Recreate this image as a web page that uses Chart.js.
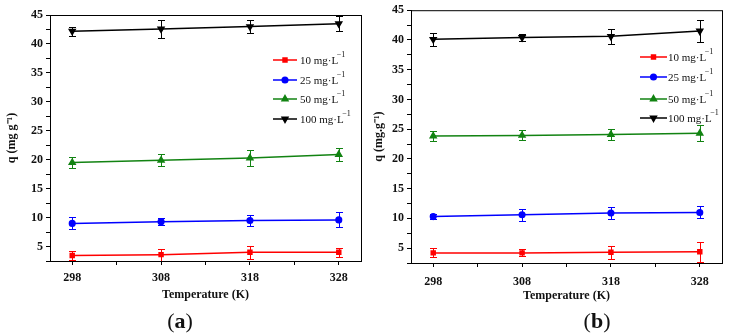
<!DOCTYPE html>
<html>
<head>
<meta charset="utf-8">
<script src="https://cdn.jsdelivr.net/npm/chart.js@4.4.1/dist/chart.umd.min.js"></script>
<style>
    body { margin: 0; background: #fff; width: 734px; height: 335px; overflow: hidden; position: relative; }
    .panel { position: absolute; top: 0; }
    .tag { position: absolute; top: 308px; font: 22px 'Liberation Serif', serif; color: #111; transform: translateX(-50%); }
</style>
</head>
<body>
<div class="panel" style="left:0px"><canvas id="chartA" width="367" height="310"></canvas></div>
<div class="panel" style="left:370px"><canvas id="chartB" width="364" height="310"></canvas></div>
<div class="tag" style="left:180px">(<b>a</b>)</div>
<div class="tag" style="left:597px">(<b>b</b>)</div>

<script>
// Data
const temps = [298, 308, 318, 328];
const xTicks = [298, 303, 308, 313, 318, 323, 328];
const yTickLabels = [5, 10, 15, 20, 25, 30, 35, 40, 45];
const seriesNames = ['10 mg\u00b7L', '25 mg\u00b7L', '50 mg\u00b7L', '100 mg\u00b7L'];

// panel (a)
const a10 = [3.45, 3.6, 4.0, 4.0];
const a10Err = [0.75, 1.05, 1.1, 0.8];
const a25 = [9.0, 9.3, 9.5, 9.6];
const a25Err = [1.05, 0.6, 0.9, 1.3];
const a50 = [19.5, 19.9, 20.3, 20.9];
const a50Err = [1.0, 1.0, 1.4, 1.2];
const a100 = [42.2, 42.6, 43.0, 43.5];
const a100Err = [0.8, 1.5, 1.1, 1.3];

// panel (b)
const b10 = [4.2, 4.2, 4.3, 4.4];
const b10Err = [0.75, 0.6, 1.1, 1.7];
const b25 = [10.3, 10.6, 10.9, 11.0];
const b25Err = [0.45, 1.0, 1.0, 1.0];
const b50 = [23.85, 23.95, 24.1, 24.3];
const b50Err = [0.8, 0.85, 1.0, 1.35];
const b100 = [40.1, 40.4, 40.6, 41.5];
const b100Err = [1.05, 0.6, 1.2, 1.85];

Chart.defaults.font.family = "'Liberation Serif', 'Times New Roman', serif";
Chart.defaults.color = '#111';

const colors = ['#ff0000', '#0000ff', '#128312', '#000000'];
const styles = ['rect', 'circle', 'triangle', 'triangle'];
const rotations = [0, 0, 0, 180];
const radii = [2.8, 2.8, 3.4, 3.4];

// error bars, drawn through the y scale
const errorBars = {
    id: 'errorBars',
    afterDatasetsDraw(chart) {
        const ctx = chart.ctx;
        const y = chart.scales.y;
        const area = chart.chartArea;
        ctx.save();
        ctx.beginPath();
        ctx.rect(area.left, area.top - 10, area.right - area.left, area.bottom - area.top + 10);
        ctx.clip();
        chart.data.datasets.forEach((ds, i) => {
            const meta = chart.getDatasetMeta(i);
            ctx.strokeStyle = ds.borderColor;
            ctx.lineWidth = 1;
            meta.data.forEach((pt, j) => {
                const e = ds.errors[j];
                const top = Math.round(y.getPixelForValue(ds.data[j].y + e)) + 0.5;
                const bot = Math.round(y.getPixelForValue(ds.data[j].y - e)) + 0.5;
                const x = Math.round(pt.x) + 0.5;
                ctx.beginPath();
                ctx.moveTo(x, top); ctx.lineTo(x, bot);
                ctx.moveTo(x - 3.5, top); ctx.lineTo(x + 3.5, top);
                ctx.moveTo(x - 3.5, bot); ctx.lineTo(x + 3.5, bot);
                ctx.stroke();
            });
        });
        ctx.restore();
    }
};

// box round the plot area
const frame = {
    id: 'frame',
    afterDraw(chart) {
        const a = chart.chartArea;
        const ctx = chart.ctx;
        ctx.save();
        ctx.strokeStyle = '#000';
        ctx.lineWidth = 1;
        ctx.strokeRect(a.left + 0.5, a.top + 0.5, a.right - a.left, a.bottom - a.top);
        ctx.restore();
    }
};

// legend: line + marker + text with superscript
const lineLegend = {
    id: 'lineLegend',
    afterDraw(chart, args, opts) {
        const ctx = chart.ctx;
        ctx.save();
        chart.data.datasets.forEach((ds, i) => {
            const y = opts.rows[i];
            ctx.strokeStyle = ds.borderColor;
            ctx.lineWidth = 1.5;
            ctx.beginPath();
            ctx.moveTo(opts.x1, y); ctx.lineTo(opts.x2, y);
            ctx.stroke();
            ctx.fillStyle = ds.borderColor;
            if (Chart.helpers && Chart.helpers.drawPoint) {
                Chart.helpers.drawPoint(ctx, {
                    pointStyle: ds.pointStyle, radius: ds.pointRadius,
                    rotation: ds.pointRotation || 0, borderWidth: 1
                }, (opts.x1 + opts.x2) / 2, y);
            }
            ctx.fillStyle = '#111';
            ctx.font = "11px 'Liberation Serif', serif";
            ctx.textBaseline = 'middle';
            ctx.textAlign = 'left';
            ctx.fillText(ds.label, opts.tx, y + 1);
            const w = ctx.measureText(ds.label).width;
            ctx.font = "8px 'Liberation Serif', serif";
            ctx.fillText('\u22121', opts.tx + w - 1.5, y - 5);
        });
        ctx.restore();
    }
};

function makeDatasets(vals, errs) {
    return vals.map((v, i) => ({
        label: seriesNames[i],
        data: v.map((y, j) => ({ x: temps[j], y: y })),
        errors: errs[i],
        borderColor: colors[i],
        backgroundColor: colors[i],
        pointStyle: styles[i],
        pointRotation: rotations[i],
        pointRadius: radii[i],
        pointHoverRadius: radii[i],
        borderWidth: 1.5,
        tension: 0
    }));
}

function draw(id, datasets, cfg) {
    return new Chart(document.getElementById(id), {
        type: 'line',
        data: { datasets: datasets },
        options: {
            responsive: false,
            animation: false,
            layout: { padding: { top: cfg.top, right: cfg.right, left: 0, bottom: 0 } },
            plugins: {
                legend: { display: false },
                tooltip: { enabled: false },
                lineLegend: cfg.legend
            },
            scales: {
                x: {
                    type: 'linear',
                    min: 295.5,
                    max: 330.5,
                    afterBuildTicks: s => { s.ticks = xTicks.map(v => ({ value: v })); },
                    afterFit: s => { s.height = cfg.xHeight; },
                    border: { color: '#000', width: 1 },
                    grid: { drawOnChartArea: false, tickLength: 4, color: '#000' },
                    ticks: {
                        autoSkip: false, maxRotation: 0, padding: cfg.xPad,
                        font: { size: 12, weight: 'bold' }, color: '#111',
                        callback: v => temps.includes(v) ? String(v) : ''
                    },
                    title: {
                        display: true, text: 'Temperature (K)',
                        font: { size: 12, weight: 'bold' }, color: '#111',
                        padding: { top: 0, bottom: cfg.xTitlePad }
                    }
                },
                y: {
                    min: 2.5,
                    max: 45,
                    afterBuildTicks: s => {
                        const t = [];
                        for (let v = 2.5; v <= 45; v += 2.5) t.push({ value: v });
                        s.ticks = t;
                    },
                    afterFit: s => { s.width = cfg.yWidth; },
                    border: { color: '#000', width: 1 },
                    grid: { drawOnChartArea: false, tickLength: 4, color: '#000' },
                    ticks: {
                        padding: 3, autoSkip: false,
                        font: { size: 12, weight: 'bold' }, color: '#111',
                        callback: v => yTickLabels.includes(v) ? String(v) : ''
                    },
                    title: {
                        display: true, text: cfg.yTitle,
                        font: { size: 12, weight: 'bold' }, color: '#111',
                        padding: { top: cfg.yTitlePad, bottom: 0 }
                    }
                }
            }
        },
        plugins: [errorBars, frame, lineLegend]
    });
}

draw('chartA', makeDatasets([a10, a25, a50, a100], [a10Err, a25Err, a50Err, a100Err]), {
    top: 15, right: 6, yWidth: 50, xHeight: 49, xPad: 6, xTitlePad: 8, yTitlePad: 5,
    yTitle: 'q (mg g\u207b\u00b9)',
    legend: { rows: [60, 80, 99, 119], x1: 273, x2: 297, tx: 300 }
});
draw('chartB', makeDatasets([b10, b25, b50, b100], [b10Err, b25Err, b50Err, b100Err]), {
    top: 10, right: 12, yWidth: 41, xHeight: 47, xPad: 8, xTitlePad: 7, yTitlePad: 2,
    yTitle: 'q (mg.g\u207b\u00b9)',
    legend: { rows: [57, 77, 99, 118], x1: 270, x2: 297, tx: 298 }
});
</script>
</body>
</html>
